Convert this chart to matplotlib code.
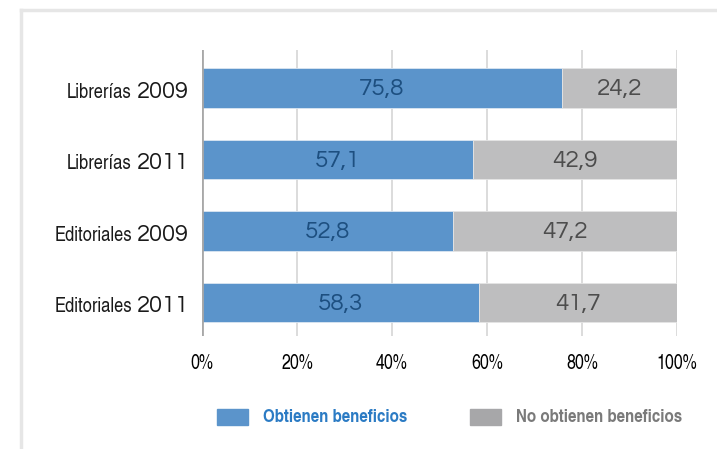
import matplotlib
matplotlib.use('Agg')
import matplotlib.pyplot as plt
from matplotlib.patches import Rectangle
from matplotlib.lines import Line2D

# data
names = ['Librerías', 'Librerías', 'Editoriales', 'Editoriales']
years = ['2009', '2011', '2009', '2011']
obtienen = [75.8, 57.1, 52.8, 58.3]
no_obtienen = [24.2, 42.9, 47.2, 41.7]
ticks = [0, 20, 40, 60, 80, 100]
tick_labels = ['0%', '20%', '40%', '60%', '80%', '100%']

blue = '#5b94cb'
grey = '#bebebf'
narrow = ['TeX Gyre Heros Cn', 'Liberation Sans', 'DejaVu Sans']
round_font = ['Questrial', 'DejaVu Sans']

fig = plt.figure(figsize=(7.17, 4.49), dpi=100)
W, H = 717, 449

# outer frame (light grey lines top and left)
fig.add_artist(Line2D([21 / W, 1], [1 - 10 / H, 1 - 10 / H], color='#e6e6e6', lw=2.5, transform=fig.transFigure))
fig.add_artist(Line2D([21 / W, 21 / W], [0, 1 - 10 / H], color='#e6e6e6', lw=2.5, transform=fig.transFigure))

ax = fig.add_axes([202 / W, 1 - 336 / H, 475 / W, 286 / H])

pos = list(range(len(names)))
ax.barh(pos, obtienen, height=0.555, color=blue, edgecolor='#dbe6f2', linewidth=0.6, zorder=2)
ax.barh(pos, no_obtienen, left=obtienen, height=0.555, color=grey, edgecolor='#e4e4e4', linewidth=0.6, zorder=2)

for i in pos:
    ax.text(obtienen[i] / 2, i + 0.02, f'{obtienen[i]:.1f}'.replace('.', ','), ha='center', va='center',
            fontsize=17.5, family=round_font, color='#1d4f80', zorder=3)
    ax.text(obtienen[i] + no_obtienen[i] / 2, i + 0.02, f'{no_obtienen[i]:.1f}'.replace('.', ','), ha='center',
            va='center', fontsize=17.5, family=round_font, color='#4d4d4d', zorder=3)

ax.set_xlim(0, 100)
ax.set_ylim(3.47, -0.53)
ax.set_xticks(ticks)
ax.set_xticklabels(tick_labels, family=narrow, fontsize=14)
ax.tick_params(axis='x', length=0, pad=13)
ax.set_yticks([])
for s in ax.spines.values():
    s.set_visible(False)
for t in ticks[1:]:
    ax.axvline(t, color='#d6d6d6', lw=1.2, zorder=1)
ax.axvline(0, color='#a8a8a8', lw=2, zorder=4)

# category labels: name in narrow font, year in wider font, same baseline
for i in pos:
    yr = ax.text(-2.8, i + 0.14, years[i], ha='right', va='baseline', fontsize=17, color='#1a1a1a',
                 family=round_font)
    ax.annotate(names[i], xy=(0, i + 0.14), xycoords=(yr, 'data'), xytext=(-3.5, 0),
                textcoords='offset points', ha='right', va='baseline', fontsize=14.5,
                family=narrow, color='#1a1a1a')

# legend
fig.add_artist(Rectangle((217 / W, 1 - 425 / H), 31 / W, 16 / H, color=blue, transform=fig.transFigure))
fig.text(263 / W, 1 - 417 / H, 'Obtienen beneficios', family=narrow, fontweight='bold', fontsize=13.3,
         color='#2b7bc4', va='center')
fig.add_artist(Rectangle((470 / W, 1 - 425 / H), 31 / W, 16 / H, color='#a7a7a9', transform=fig.transFigure))
fig.text(516 / W, 1 - 417 / H, 'No obtienen beneficios', family=narrow, fontweight='bold', fontsize=13.3,
         color='#7a7a7a', va='center')

fig.savefig('out.png', dpi=100)
